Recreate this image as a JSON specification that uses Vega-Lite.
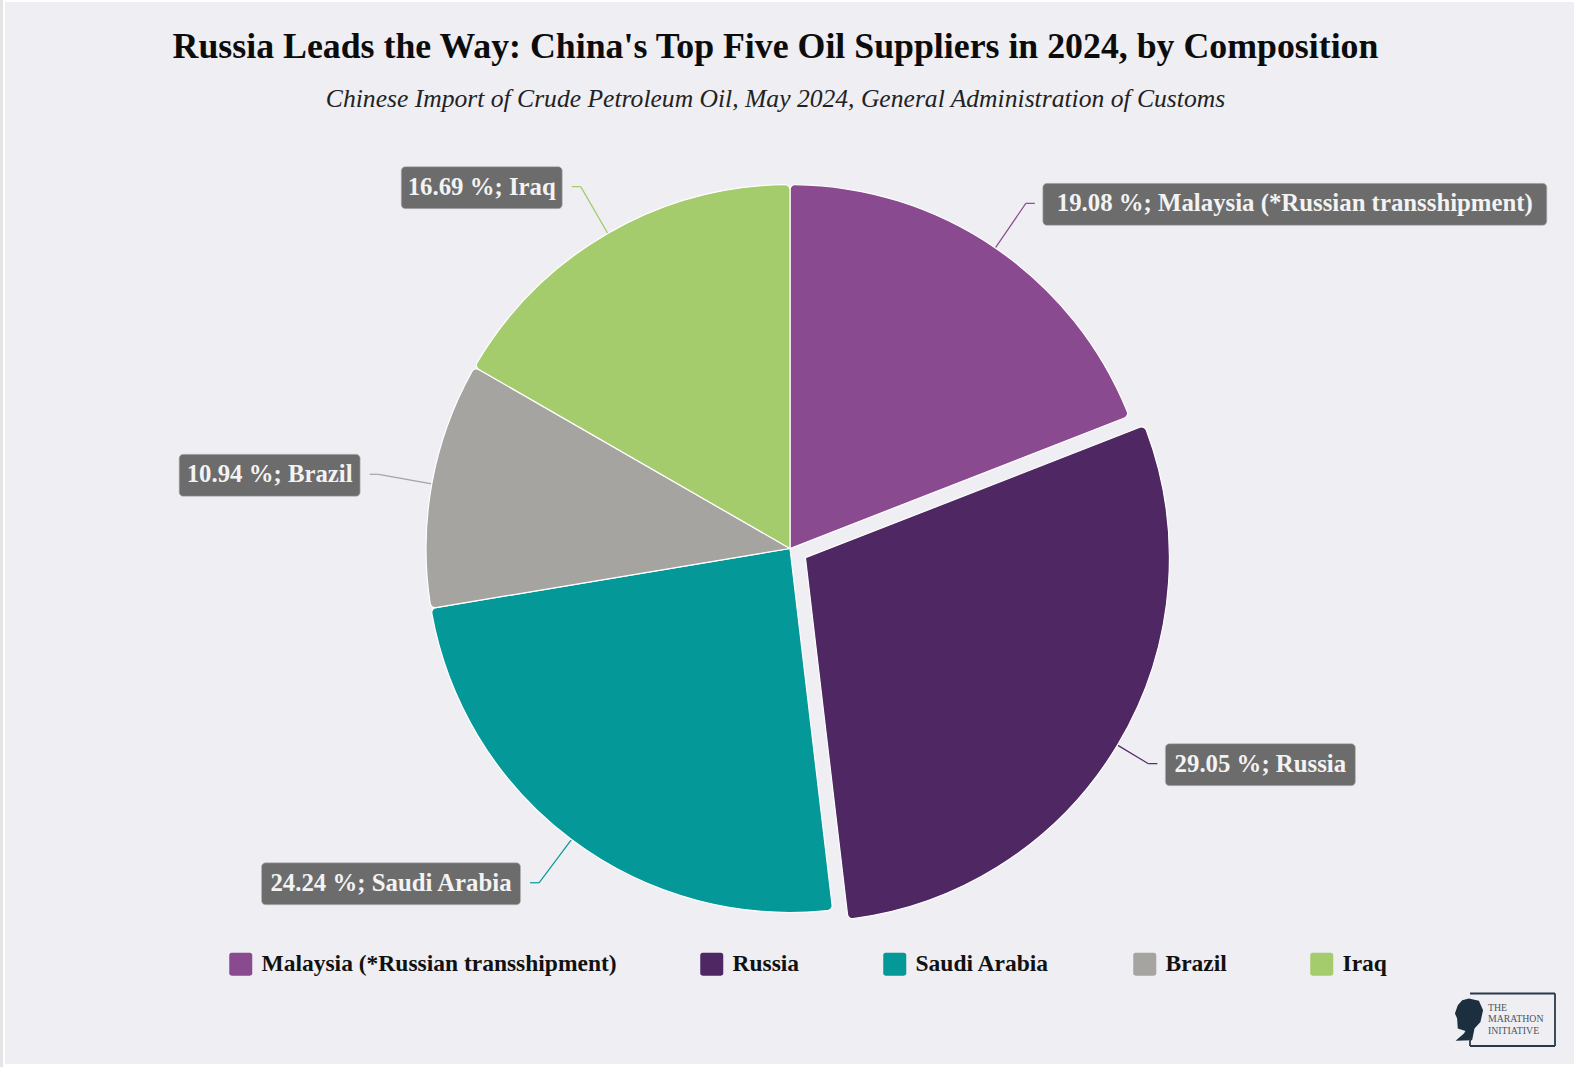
{
  "$schema": "https://vega.github.io/schema/vega-lite/v6.json",
  "width": 1569,
  "height": 1062,
  "autosize": "none",
  "padding": {"left": 5, "top": 2, "right": 1, "bottom": 3},
  "background": "#ffffff",
  "view": {"fill": "#eeeef3", "stroke": null},
  "config": {
    "font": "Liberation Serif",
    "legend": {"labelFont": "Liberation Serif"}
  },
  "title": {
    "text": "Russia Leads the Way: China's Top Five Oil Suppliers in 2024, by Composition",
    "subtitle": "Chinese Import of Crude Petroleum Oil, May 2024, General Administration of Customs",
    "anchor": "middle",
    "dx": -14,
    "offset": -115,
    "font": "Liberation Serif",
    "fontSize": 35.8,
    "fontWeight": "bold",
    "color": "#0c0c0c",
    "subtitleFont": "Liberation Serif",
    "subtitleFontSize": 25.6,
    "subtitleFontStyle": "italic",
    "subtitleColor": "#222222",
    "subtitlePadding": 21
  },
  "data": {
    "values": [
      {"name": "Malaysia (*Russian transshipment)", "value": 19.08},
      {"name": "Russia", "value": 29.05},
      {"name": "Saudi Arabia", "value": 24.24},
      {"name": "Brazil", "value": 10.94},
      {"name": "Iraq", "value": 16.69}
    ]
  },
  "transform": [
    {"window": [{"op": "sum", "field": "value", "as": "end"}]},
    {"calculate": "datum.end - datum.value", "as": "start"},
    {"calculate": "(datum.start + datum.end) / 200 * 2 * PI", "as": "mid"},
    {"calculate": "sin(datum.mid)", "as": "ux"},
    {"calculate": "-cos(datum.mid)", "as": "uy"},
    {"calculate": "datum.name === 'Russia' ? 18 : 0", "as": "pull"},
    {"calculate": "datum.pull * datum.ux", "as": "cx"},
    {"calculate": "datum.pull * datum.uy", "as": "cy"},
    {"calculate": "datum.cx + 364 * datum.ux", "as": "edgeX"},
    {"calculate": "datum.cy + 364 * datum.uy", "as": "edgeY"},
    {"calculate": "418 * datum.ux", "as": "elbowX"},
    {"calculate": "418 * datum.uy", "as": "elbowY"},
    {"calculate": "datum.ux > 0 ? 1 : -1", "as": "side"},
    {"calculate": "datum.elbowX + 9 * datum.side", "as": "tailX"},
    {"calculate": "datum.side > 0 ? datum.tailX + 8 : datum.tailX - 9.5", "as": "boxNear"},
    {"calculate": "{'Malaysia (*Russian transshipment)': 504, 'Russia': 190, 'Saudi Arabia': 259, 'Brazil': 181, 'Iraq': 161}[datum.name]", "as": "boxWidth"},
    {"calculate": "datum.boxNear + datum.boxWidth * datum.side", "as": "boxFar"},
    {"calculate": "(datum.boxNear + datum.boxFar) / 2", "as": "boxMid"},
    {"calculate": "datum.elbowY - 20", "as": "boxTop"},
    {"calculate": "datum.elbowY + 22", "as": "boxBottom"},
    {"calculate": "datum.elbowY + 1", "as": "textY"},
    {"calculate": "format(datum.value, '.2f') + ' %; ' + datum.name", "as": "label"},
    {"calculate": "{'Malaysia (*Russian transshipment)': '#8a4a8f', 'Russia': '#4f2763', 'Saudi Arabia': '#059899', 'Brazil': '#a5a4a0', 'Iraq': '#a4cb6c'}[datum.name]", "as": "leaderColor"}
  ],
  "layer": [
    {
      "data": {"values": [{"part": "page edge"}]},
      "transform": [],
      "mark": {"type": "rule", "stroke": "#e4e4e4", "strokeWidth": 3},
      "encoding": {
        "x": {"datum": -788.5, "type": "quantitative", "scale": {"domain": [-785, 784], "nice": false, "zero": false}, "axis": null},
        "y": {"datum": -548.5, "type": "quantitative", "scale": {"domain": [-546.5, 515.5], "nice": false, "zero": false, "reverse": true}, "axis": null},
        "y2": {"datum": 518.5}
      }
    },
    {
      "mark": {"type": "rule", "strokeWidth": 1.2},
      "encoding": {
        "x": {"field": "edgeX", "type": "quantitative", "scale": {"domain": [-785, 784], "nice": false, "zero": false}, "axis": null},
        "y": {"field": "edgeY", "type": "quantitative", "scale": {"domain": [-546.5, 515.5], "nice": false, "zero": false, "reverse": true}, "axis": null},
        "x2": {"field": "elbowX"},
        "y2": {"field": "elbowY"},
        "stroke": {"field": "leaderColor", "type": "nominal", "scale": null}
      }
    },
    {
      "mark": {"type": "rule", "strokeWidth": 1.2},
      "encoding": {
        "x": {"field": "elbowX", "type": "quantitative", "scale": {"domain": [-785, 784], "nice": false, "zero": false}, "axis": null},
        "y": {"field": "elbowY", "type": "quantitative", "scale": {"domain": [-546.5, 515.5], "nice": false, "zero": false, "reverse": true}, "axis": null},
        "x2": {"field": "tailX"},
        "stroke": {"field": "leaderColor", "type": "nominal", "scale": null}
      }
    },
    {
      "mark": {"type": "arc", "outerRadius": 364, "cornerRadius": 5, "stroke": "#ffffff", "strokeWidth": 1.2},
      "encoding": {
        "x": {"field": "cx", "type": "quantitative", "scale": {"domain": [-785, 784], "nice": false, "zero": false}, "axis": null},
        "y": {"field": "cy", "type": "quantitative", "scale": {"domain": [-546.5, 515.5], "nice": false, "zero": false, "reverse": true}, "axis": null},
        "theta": {"field": "start", "type": "quantitative", "stack": null, "scale": {"domain": [0, 100], "range": [0, 6.283185307]}},
        "theta2": {"field": "end"},
        "fill": {
          "field": "name",
          "type": "nominal",
          "sort": null,
          "scale": {"domain": ["Malaysia (*Russian transshipment)", "Russia", "Saudi Arabia", "Brazil", "Iraq"], "range": ["#8a4a8f", "#4f2763", "#059899", "#a5a4a0", "#a4cb6c"]},
          "legend": {
            "title": null,
            "orient": "none",
            "direction": "horizontal",
            "columns": 5,
            "columnPadding": 83,
            "legendX": 224,
            "legendY": 950,
            "symbolType": "M-0.8,-1 H0.8 A0.2,0.2 0 0 1 1,-0.8 V0.8 A0.2,0.2 0 0 1 0.8,1 H-0.8 A0.2,0.2 0 0 1 -1,0.8 V-0.8 A0.2,0.2 0 0 1 -0.8,-1 Z",
            "symbolSize": 529,
            "symbolStrokeWidth": 0,
            "labelFont": "Liberation Serif",
            "labelFontSize": 23.5,
            "labelFontWeight": "bold",
            "labelColor": "#111111",
            "labelOffset": 9,
            "labelLimit": 600
          }
        }
      }
    },
    {
      "mark": {"type": "rect", "fill": "#6c6c6c", "stroke": "#b8b8b8", "strokeWidth": 0.6, "cornerRadius": 4},
      "encoding": {
        "x": {"field": "boxNear", "type": "quantitative", "scale": {"domain": [-785, 784], "nice": false, "zero": false}, "axis": null},
        "x2": {"field": "boxFar"},
        "y": {"field": "boxTop", "type": "quantitative", "scale": {"domain": [-546.5, 515.5], "nice": false, "zero": false, "reverse": true}, "axis": null},
        "y2": {"field": "boxBottom"}
      }
    },
    {
      "mark": {"type": "text", "font": "Liberation Serif", "fontWeight": "bold", "fontSize": 24.8, "fill": "#f3f3f3", "align": "center", "baseline": "middle"},
      "encoding": {
        "x": {"field": "boxMid", "type": "quantitative", "scale": {"domain": [-785, 784], "nice": false, "zero": false}, "axis": null},
        "y": {"field": "textY", "type": "quantitative", "scale": {"domain": [-546.5, 515.5], "nice": false, "zero": false, "reverse": true}, "axis": null},
        "text": {"field": "label", "type": "nominal"}
      }
    },
    {
      "data": {"values": [{"part": "head"}]},
      "transform": [],
      "mark": {
        "type": "point",
        "filled": true,
        "opacity": 1,
        "fill": "#1b2f3f",
        "size": 1936,
        "shape": "M0,-0.95 L0.45,-0.85 L0.64,-0.42 L0.52,0.11 L0.25,0.41 L0.14,0.94 L-0.61,0.97 L-0.23,0.64 L-0.16,0.52 L-0.51,0.41 L-0.54,-0.05 L-0.64,-0.27 L-0.51,-0.65 L-0.31,-0.88 Z"
      },
      "encoding": {
        "x": {"datum": 679, "type": "quantitative", "scale": {"domain": [-785, 784], "nice": false, "zero": false}, "axis": null},
        "y": {"datum": 471, "type": "quantitative", "scale": {"domain": [-546.5, 515.5], "nice": false, "zero": false, "reverse": true}, "axis": null}
      }
    },
    {
      "data": {"values": [
        {"x0": 680, "x1": 765, "y0": 445, "y1": 445},
        {"x0": 765, "x1": 765, "y0": 445, "y1": 497.5},
        {"x0": 680, "x1": 765, "y0": 497.5, "y1": 497.5},
        {"x0": 680, "x1": 680, "y0": 489, "y1": 497.5}
      ]},
      "transform": [],
      "mark": {"type": "rule", "stroke": "#27394a", "strokeWidth": 1.8},
      "encoding": {
        "x": {"field": "x0", "type": "quantitative", "scale": {"domain": [-785, 784], "nice": false, "zero": false}, "axis": null},
        "x2": {"field": "x1"},
        "y": {"field": "y0", "type": "quantitative", "scale": {"domain": [-546.5, 515.5], "nice": false, "zero": false, "reverse": true}, "axis": null},
        "y2": {"field": "y1"}
      }
    },
    {
      "data": {"values": [{"part": "wordmark"}]},
      "transform": [],
      "mark": {"type": "text", "text": ["THE", "MARATHON", "INITIATIVE"], "font": "Liberation Serif", "fontSize": 9.8, "lineHeight": 11.5, "fill": "#4a5561", "align": "left", "baseline": "top"},
      "encoding": {
        "x": {"datum": 698, "type": "quantitative", "scale": {"domain": [-785, 784], "nice": false, "zero": false}, "axis": null},
        "y": {"datum": 454, "type": "quantitative", "scale": {"domain": [-546.5, 515.5], "nice": false, "zero": false, "reverse": true}, "axis": null}
      }
    }
  ]
}
